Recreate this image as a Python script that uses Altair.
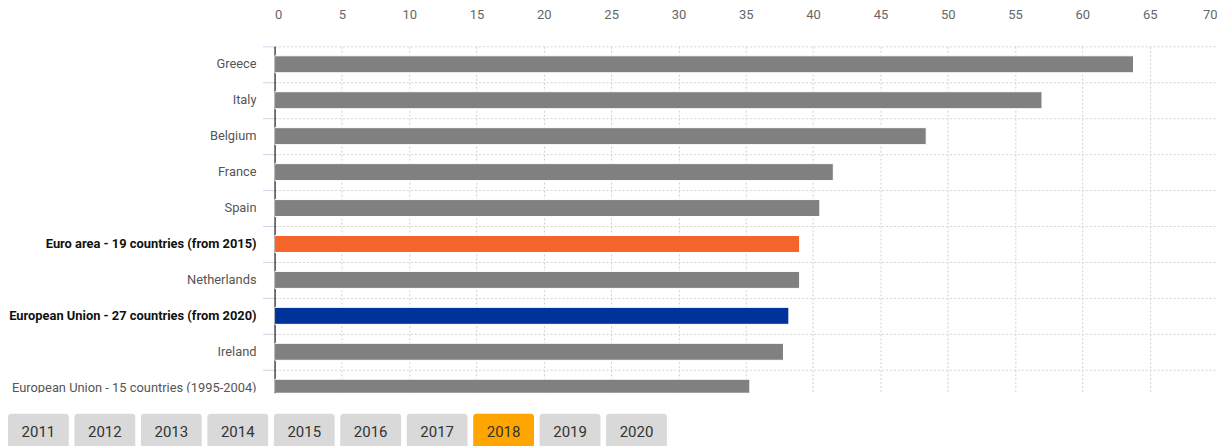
import altair as alt
import pandas as pd

countries = [
    "Greece", "Italy", "Belgium", "France", "Spain",
    "Euro area - 19 countries (from 2015)", "Netherlands",
    "European Union - 27 countries (from 2020)", "Ireland",
    "European Union - 15 countries (1995-2004)",
]
values = [63.8, 57.0, 48.4, 41.5, 40.5, 39.0, 39.0, 38.2, 37.8, 35.3]
groups = ["country", "country", "country", "country", "country",
          "euro", "country", "eu", "country", "country"]
years = ["2011", "2012", "2013", "2014", "2015", "2016", "2017", "2018", "2019", "2020"]
selected_year = "2018"

BAR_HALF = 0.236  # half bar thickness as a fraction of a row

df = pd.DataFrame({
    "name": countries,
    "value": values,
    "group": groups,
    "pos": [i + 0.5 for i in range(len(countries))],
    "lo": [i + 0.5 - BAR_HALF for i in range(len(countries))],
    "hi": [i + 0.5 + BAR_HALF for i in range(len(countries))],
    "bold": [g != "country" for g in groups],
})
yrs = pd.DataFrame({"year": years, "sel": [y == selected_year for y in years]})

ROW = 36
VISIBLE = 9.64
PLOT_H = ROW * VISIBLE
PLOT_W = 944
LABEL_W = 249

noview = alt.ViewConfig(stroke="transparent", strokeWidth=0)
yscale = alt.Scale(domain=[0, VISIBLE], reverse=True, nice=False, zero=False)

lab_base = alt.Chart(df).encode(
    y=alt.Y("pos:Q", scale=yscale, axis=None),
    x=alt.value(LABEL_W),
    text="name:N",
)
labels_normal = lab_base.transform_filter("!datum.bold").mark_text(
    align="right", baseline="middle", fontSize=12.9, color="#555555", clip=True, font="Roboto"
)
labels_bold = lab_base.transform_filter("datum.bold").mark_text(
    align="right", baseline="middle", fontSize=12.9, color="#111111", fontWeight="bold",
    clip=True, font="Roboto"
)
left = alt.layer(labels_normal, labels_bold).properties(
    width=LABEL_W, height=PLOT_H, view=noview)

bars = alt.Chart(df).mark_rect(
    clip=True, stroke="white", strokeWidth=1
).encode(
    x=alt.X(
        "value:Q",
        scale=alt.Scale(domain=[0, 70], nice=False),
        axis=alt.Axis(
            orient="top", values=list(range(0, 71, 5)), title=None, domain=False,
            ticks=False, tickSize=0, labelPadding=25, labelFontSize=13,
            labelColor="#666666", labelFont="Roboto", grid=True,
            gridColor="#cfcfcf", gridDash=[2, 2], gridWidth=1,
        ),
    ),
    x2=alt.datum(0),
    y=alt.Y(
        "lo:Q",
        scale=yscale,
        axis=alt.Axis(
            values=list(range(0, 11)), labels=False, title=None,
            domain=True, domainColor="#222222", domainWidth=1.2,
            ticks=True, tickSize=12, tickColor="#ccd6eb", tickWidth=1,
            grid=True, gridColor="#d6d6d6", gridDash=[2, 2], gridWidth=1,
        ),
    ),
    y2="hi:Q",
    color=alt.Color(
        "group:N",
        scale=alt.Scale(domain=["country", "euro", "eu"],
                        range=["#808080", "#f5642a", "#003399"]),
        legend=None,
    ),
).properties(width=PLOT_W, height=PLOT_H, view=noview)

top = alt.hconcat(left, bars, spacing=18, bounds="flush")

btn_x = alt.X("year:N", sort=years,
              scale=alt.Scale(paddingInner=0.085, paddingOuter=0.0),
              axis=None)
buttons = alt.Chart(yrs).mark_rect(cornerRadius=3).encode(
    x=btn_x,
    color=alt.Color("sel:N", scale=alt.Scale(domain=[False, True],
                                             range=["#d9d9d9", "#ffa500"]), legend=None),
)
btn_text = alt.Chart(yrs).mark_text(
    fontSize=15, color="#333333", font="Roboto", baseline="middle"
).encode(x=btn_x, text="year:N")
btn = alt.layer(buttons, btn_text).properties(width=660, height=36, view=noview)

chart = alt.vconcat(top, btn, spacing=20).resolve_scale(
    color="independent", x="independent", y="independent"
).properties(padding=0).configure_view(stroke="transparent", strokeWidth=0).configure(font="Roboto")

chart.save("out.html", embed_options={"renderer": "svg", "actions": False})
